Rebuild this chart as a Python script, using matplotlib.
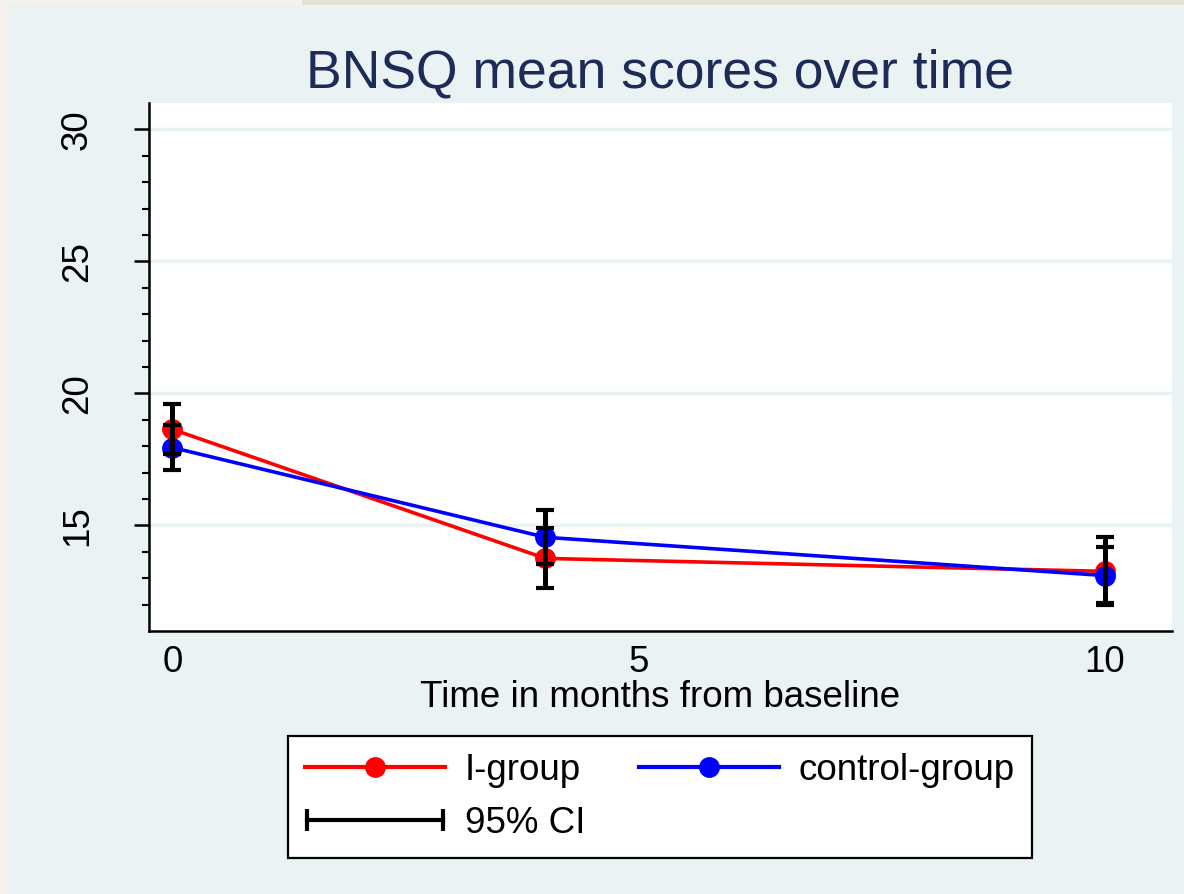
import numpy as np
import matplotlib.pyplot as plt
from matplotlib.lines import Line2D
from matplotlib.patches import Rectangle
from matplotlib.legend_handler import HandlerLine2D

plt.rcParams['font.family'] = ['Liberation Sans', 'DejaVu Sans']

months = [0, 4, 10]
i_mean = [18.64, 13.75, 13.26]
i_lo = [17.70, 12.61, 11.97]
i_hi = [19.58, 14.89, 14.55]
c_mean = [17.95, 14.55, 13.10]
c_lo = [17.08, 13.52, 12.05]
c_hi = [18.79, 15.57, 14.17]

bg = '#EAF2F3'

fig = plt.figure(figsize=(11.84, 8.94), dpi=100)
fig.patch.set_facecolor('#F3F2EF')
# screenshot edges
fig.add_artist(Rectangle((302/1184, 1 - 5/894), 1, 5/894, transform=fig.transFigure,
                         facecolor='#E4E1D6', edgecolor='none', zorder=0))
fig.add_artist(Rectangle((9/1184, 0), 1, 1 - 5/894, transform=fig.transFigure,
                         facecolor=bg, edgecolor='none', zorder=0))

ax = fig.add_axes([149/1184, 1 - 631/894, (1172 - 149)/1184, (631 - 103)/894])
ax.set_facecolor('white')

ax.plot(months, i_mean, color='red', lw=2.6, marker='o', ms=14, zorder=3)
ax.plot(months, c_mean, color='blue', lw=2.6, marker='o', ms=14, zorder=4)

for m, lo, hi in [(i_mean, i_lo, i_hi), (c_mean, c_lo, c_hi)]:
    yerr = [np.array(m) - np.array(lo), np.array(hi) - np.array(m)]
    ax.errorbar(months, m, yerr=yerr, fmt='none', ecolor='black', elinewidth=3.6,
                capsize=6.2, capthick=3, zorder=5)

ax.set_xlim(-0.25, 10.72)
ax.set_ylim(11.0, 31.0)
ax.set_yticks([15, 20, 25, 30])
ax.set_yticks(np.arange(12, 31, 1), minor=True)
ax.set_xticks([0, 5, 10])
ax.grid(axis='y', color=bg, lw=2.5)
ax.set_axisbelow(True)

for s in ['top', 'right']:
    ax.spines[s].set_visible(False)
for s in ['left', 'bottom']:
    ax.spines[s].set_linewidth(1.8)

ax.tick_params(axis='y', which='major', length=11, width=1.8, labelsize=26.5, pad=28)
ax.tick_params(axis='y', which='minor', length=5, width=1.5)
ax.tick_params(axis='x', length=0, labelsize=26.5, pad=10)
for lab in ax.get_yticklabels():
    lab.set_rotation(90)
    lab.set_va('center')

ax.set_xlabel('Time in months from baseline', fontsize=26.5, labelpad=0)
fig.text(660/1184, 1 - 87/894, 'BNSQ mean scores over time', fontsize=38.5,
         color='#1C2B57', ha='center', va='baseline')

h_i = Line2D([], [], color='red', lw=3, marker='o', ms=14)
h_c = Line2D([], [], color='blue', lw=3, marker='o', ms=14)
h_ci = Line2D([], [], color='black', lw=3, marker='|', ms=16, mew=3)
leg = fig.legend([h_i, h_ci, h_c], ['I-group', '95% CI', 'control-group'], ncol=2,
                 loc='center', bbox_to_anchor=(660/1184, 1 - 797/894), fontsize=26.5,
                 frameon=True, fancybox=False, framealpha=1, handlelength=3.8,
                 handletextpad=0.55, columnspacing=1.45, labelspacing=0.5,
                 borderpad=0.45,
                 handler_map={h_ci: HandlerLine2D(numpoints=2, marker_pad=0.05)})
leg.get_frame().set_edgecolor('black')
leg.get_frame().set_linewidth(1.6)

fig.savefig('out.png', dpi=100, facecolor=fig.get_facecolor())
